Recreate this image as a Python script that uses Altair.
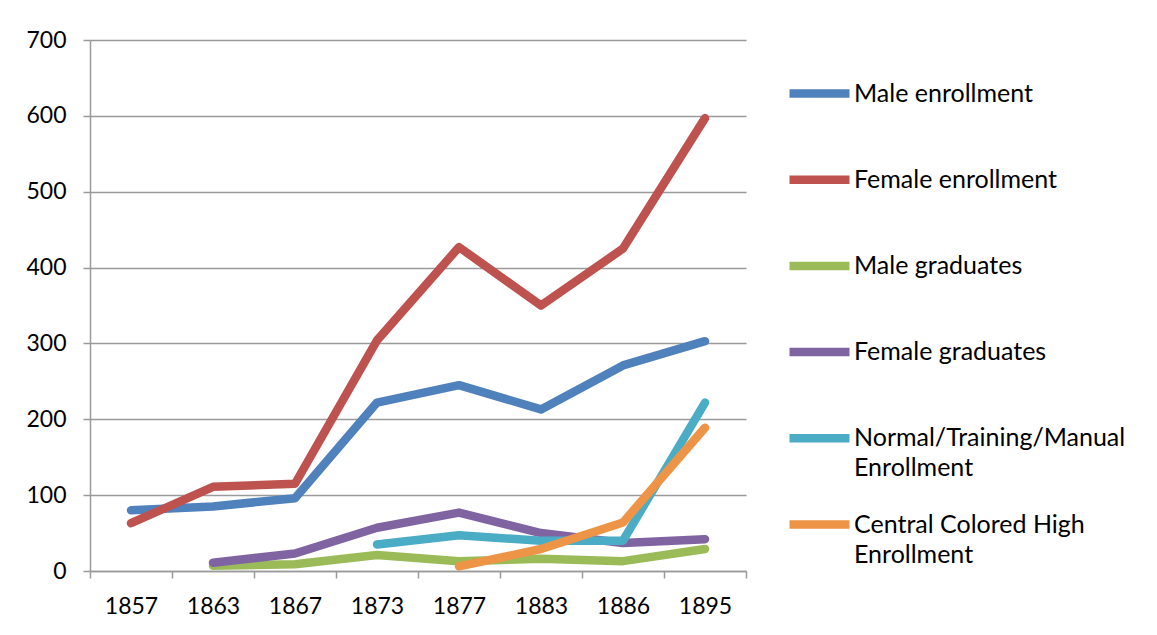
import altair as alt
import pandas as pd

years = ["1857", "1863", "1867", "1873", "1877", "1883", "1886", "1895"]
series_names = [
    "Male enrollment",
    "Female enrollment",
    "Male graduates",
    "Female graduates",
    "Normal/Training/Manual Enrollment",
    "Central Colored High Enrollment",
]
male_enrollment = [80, 85, 96, 222, 245, 213, 271, 303]
female_enrollment = [63, 111, 115, 304, 427, 350, 425, 597]
male_graduates = [None, 7, 9, 21, 13, 16, 13, 29]
female_graduates = [None, 11, 23, 57, 77, 50, 37, 42]
normal_training = [None, None, None, 35, 47, 40, 40, 222]
central_high = [None, None, None, None, 6, 29, 64, 189]
series_values = [male_enrollment, female_enrollment, male_graduates,
                 female_graduates, normal_training, central_high]
colors = ["#4F81BD", "#BE524E", "#9BBB59", "#8064A2", "#4BACC6", "#EE9446"]
y_ticks = [0, 100, 200, 300, 400, 500, 600, 700]

rows = []
for name, vals in zip(series_names, series_values):
    for yr, v in zip(years, vals):
        if v is not None:
            rows.append({"Year": yr, "Series": name, "Value": v})
df = pd.DataFrame(rows)

FONT = "Lato"
GRAY = "#9a9a9a"

x = alt.X(
    "Year:O",
    sort=years,
    bandPosition=0.5,
    scale=alt.Scale(type="band", domain=years, paddingInner=0, paddingOuter=0),
    axis=alt.Axis(
        title=None, labelAngle=0, tickBand="extent", tickSize=7, labelPadding=17,
        labelFontSize=23, labelFont=FONT, labelColor="black",
        domainColor=GRAY, tickColor=GRAY, domainWidth=1.5, tickWidth=1.5,
        grid=False,
    ),
)
y = alt.Y(
    "Value:Q",
    scale=alt.Scale(domain=[0, 700], nice=False),
    axis=alt.Axis(
        title=None, values=y_ticks, tickSize=7, labelPadding=17,
        labelFontSize=23, labelFont=FONT, labelColor="black",
        domainColor=GRAY, tickColor=GRAY, domainWidth=1.5, tickWidth=1.5,
        grid=True, gridColor=GRAY, gridWidth=1.5,
    ),
)
label_expr = (
    "indexof(datum.label, ' Enrollment') > 0 ? "
    "[replace(datum.label, ' Enrollment', ''), 'Enrollment'] : "
    "[datum.label, '']"
)
color = alt.Color(
    "Series:N",
    scale=alt.Scale(domain=series_names, range=colors),
    legend=alt.Legend(
        title=None, orient="none", legendX=695, legendY=19,
        symbolType="stroke", symbolSize=3600, symbolStrokeWidth=8.5,
        labelFont=FONT, labelFontSize=25, labelColor="black",
        labelOffset=0, labelLimit=400, rowPadding=8.2, gridAlign="all",
        labelBaseline="middle", padding=0,
        labelExpr=label_expr,
    ),
)

base = alt.Chart(df)
layers = [
    base.transform_filter(alt.datum.Series == name)
    .mark_line(strokeWidth=8.5, strokeCap="round", strokeJoin="round")
    .encode(x=x, y=y, color=color)
    for name in series_names
]

chart = (
    alt.layer(*layers)
    .properties(
        width=656, height=531,
        padding={"left": 82, "top": 32, "right": 400, "bottom": 50},
        autosize=alt.AutoSizeParams(type="none"),
    )
    .configure(style={"guide-label": {"lineHeight": 30}})
    .configure_view(stroke=None)
)

chart.save("out.html", embed_options={"renderer": "svg", "actions": False})
